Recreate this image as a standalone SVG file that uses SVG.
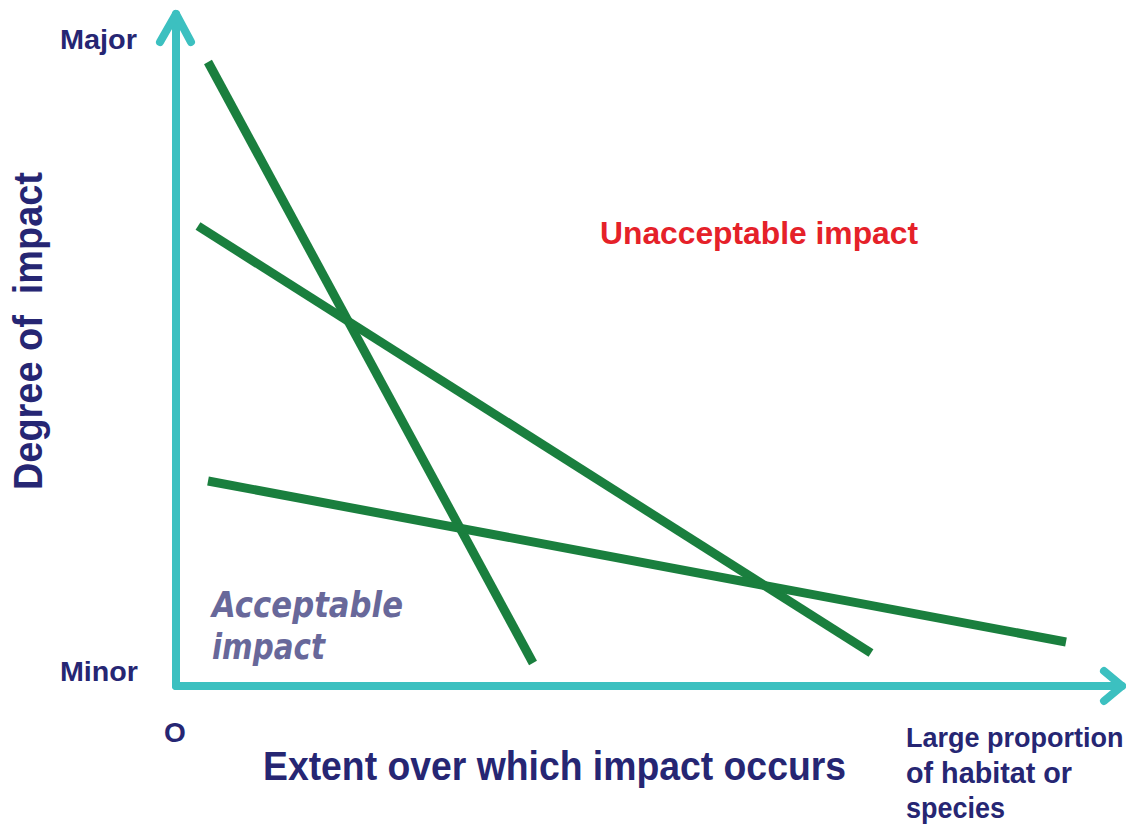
<svg xmlns="http://www.w3.org/2000/svg" width="1126" height="824" viewBox="0 0 1126 824">
<style>
.axis{stroke:#3cc0c0;stroke-width:8;fill:none;stroke-linecap:round;stroke-linejoin:round}
.line{stroke:#1a7f3e;stroke-width:9;fill:none;stroke-linecap:butt}
.navy{fill:#262673;font-family:"Liberation Sans",Arial,sans-serif;font-weight:bold}
.red{fill:#e52129;font-family:"Liberation Sans",Arial,sans-serif;font-weight:bold}
.acc{fill:#68689a;font-family:"DejaVu Sans","Liberation Sans",sans-serif;font-weight:bold;font-style:italic}
</style>
<rect width="1126" height="824" fill="#ffffff"/>
<g id="axes">
<path class="axis" d="M176 686 V14"/>
<path class="axis" d="M160 42 L176 14 L191 42"/>
<path class="axis" d="M176 686 H1122"/>
<path class="axis" d="M1104 671 L1122 686 L1104 701"/>
</g>
<g id="connectors">
<line class="line" x1="208" y1="62" x2="533" y2="663"/>
<line class="line" x1="198" y1="226" x2="871" y2="653"/>
<line class="line" x1="208" y1="481" x2="1066" y2="642"/>
</g>
<g id="labels">
<text class="navy" x="60" y="49" font-size="27" textLength="77" lengthAdjust="spacingAndGlyphs">Major</text>
<text class="navy" x="60" y="681" font-size="27" textLength="78" lengthAdjust="spacingAndGlyphs">Minor</text>
<text class="navy" x="164" y="742" font-size="28" font-weight="normal">O</text>
<text class="navy" xml:space="preserve" transform="translate(42 490) rotate(-90)" font-size="40" textLength="318" lengthAdjust="spacingAndGlyphs">Degree of  impact</text>
<text class="navy" x="263" y="780" font-size="40" textLength="583" lengthAdjust="spacingAndGlyphs">Extent over which impact occurs</text>
<text class="navy" x="906" y="747" font-size="27">Large proportion</text>
<text class="navy" x="906" y="783" font-size="30" textLength="166" lengthAdjust="spacingAndGlyphs">of habitat or</text>
<text class="navy" x="906" y="818" font-size="30" textLength="99" lengthAdjust="spacingAndGlyphs">species</text>
</g>
<g id="unacceptable">
<text class="red" x="600" y="244" font-size="32" textLength="318" lengthAdjust="spacingAndGlyphs">Unacceptable impact</text>
</g>
<g id="acceptable">
<text class="acc" x="212" y="617" font-size="36" textLength="191" lengthAdjust="spacingAndGlyphs">Acceptable</text>
<text class="acc" x="212" y="659" font-size="36" textLength="113" lengthAdjust="spacingAndGlyphs">impact</text>
</g>
</svg>
